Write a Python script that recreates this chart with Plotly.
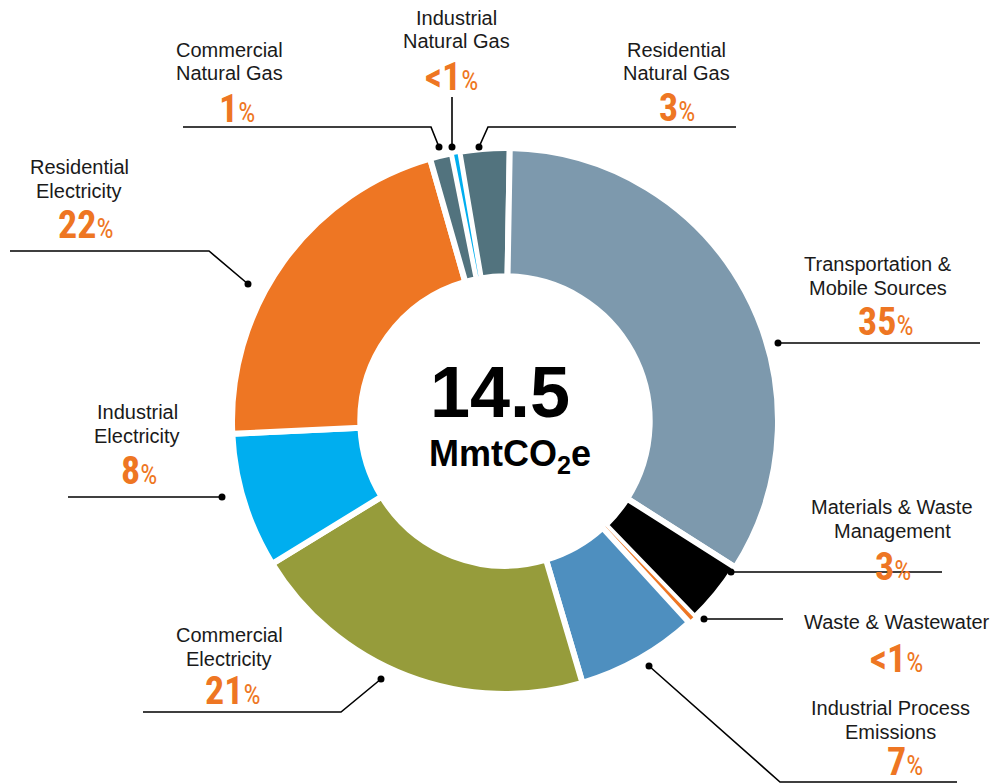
import plotly.graph_objects as go

W, H = 999, 783
OFF = 8  # the page body has an 8px margin, so pixel targets are shifted back by it

# slice data (percent of 14.5 MmtCO2e), clockwise, starting with Residential Natural Gas
# (Industrial Natural Gas last so the thin sliver is drawn on top)
categories = ['Residential Natural Gas', 'Transportation & Mobile Sources', 'Materials & Waste Management',
              'Waste & Wastewater', 'Industrial Process Emissions', 'Commercial Electricity',
              'Industrial Electricity', 'Residential Electricity', 'Commercial Natural Gas',
              'Industrial Natural Gas']
values = [2.95, 33.7, 3.75, 0.45, 7.2, 20.8, 8.0, 21.3, 1.3, 0.45]
colors = ['#52737e', '#7d99ad', '#000000', '#ee7623', '#4e8fbf', '#969c3b',
          '#00aeef', '#ee7623', '#52737e', '#00aeef']
gap_widths = [6, 6, 6, 2, 6, 6, 6, 6, 6, 4]

# callout text
label_lines = [['Residential', 'Natural Gas'], ['Transportation &', 'Mobile Sources'],
               ['Materials & Waste', 'Management'], ['Waste & Wastewater'],
               ['Industrial Process', 'Emissions'], ['Commercial', 'Electricity'],
               ['Industrial', 'Electricity'], ['Residential', 'Electricity'],
               ['Commercial', 'Natural Gas'], ['Industrial', 'Natural Gas']]
pct_labels = ['3', '35', '3', '&lt;1', '7', '21', '8', '22', '1', '&lt;1']
total_label = '14.5'
unit_label = 'MmtCO<sub>2</sub>e'

# callout placement in pixels: (text x, first line y), (pct x, pct y), leader polyline ending at the dot
label_pos = [(676, 50), (878, 264), (892, 507), (897, 622), (890, 708),
             (229, 635), (137, 412), (79, 167), (229, 50), (456, 18)]
pct_pos = [(677, 108), (886, 322), (893, 567), (896, 659), (905, 762),
           (233, 691), (139, 471), (86, 225), (237, 109), (451, 77)]
leaders = [[(736, 127), (488, 127), (479, 147)],
           [(980, 343), (778, 343)],
           [(942, 572), (731, 572)],
           [(783, 619), (704, 619)],
           [(957, 782), (780, 782), (649, 666)],
           [(143, 712), (341, 712), (381, 679)],
           [(68, 497), (222, 497)],
           [(10, 251), (209, 251), (248, 284)],
           [(183, 127), (431, 127), (439, 147)],
           [(452, 97), (452, 147)]]

cx, cy, R = 505, 421, 273


def px(x):
    return (x - OFF) / W


def py(y):
    return 1 - (y - OFF) / H


rotation = 1 - 360 * values[0] / sum(values)

fig = go.Figure(go.Pie(
    labels=categories,
    values=values,
    sort=False,
    direction='clockwise',
    rotation=rotation,
    hole=0.53,
    marker=dict(colors=colors, line=dict(color='white', width=gap_widths)),
    textinfo='none',
    hoverinfo='label+percent',
    showlegend=False,
    domain=dict(x=[px(cx - R), px(cx + R)], y=[py(cy + R), py(cy - R)]),
))

annotations = []
shapes = []
orange = '#ee7623'
for lines, (lx, ly), pct, (qx, qy), pts in zip(label_lines, label_pos, pct_labels, pct_pos, leaders):
    for i, t in enumerate(lines):
        annotations.append(dict(x=px(lx), y=py(ly + i * 23.5), xref='paper', yref='paper',
                                text=t, showarrow=False, xanchor='center', yanchor='middle',
                                font=dict(family='Liberation Sans, Arial', size=20, color='#1a1a1a')))
    annotations.append(dict(x=px(qx), y=py(qy), xref='paper', yref='paper',
                            text=pct + "<span style='font-size:27px;font-weight:normal'>%</span>",
                            showarrow=False, xanchor='center', yanchor='middle',
                            font=dict(family='Roboto Condensed, Roboto', size=38,
                                      color=orange, weight='bold')))
    path = 'M ' + ' L '.join(f'{px(x)},{py(y)}' for x, y in pts)
    shapes.append(dict(type='path', path=path, xref='paper', yref='paper',
                       line=dict(color='black', width=1.6)))
    dx, dy = pts[-1]
    shapes.append(dict(type='circle', xref='paper', yref='paper',
                       x0=px(dx - 3.5), x1=px(dx + 3.5), y0=py(dy + 3.5), y1=py(dy - 3.5),
                       fillcolor='black', line=dict(color='black', width=0)))

annotations.append(dict(x=px(500), y=py(392), xref='paper', yref='paper', text='<b>' + total_label + '</b>',
                        showarrow=False, xanchor='center', yanchor='middle',
                        font=dict(family='Liberation Sans, Arial', size=72, color='black')))
annotations.append(dict(x=px(510), y=py(456), xref='paper', yref='paper', text='<b>' + unit_label + '</b>',
                        showarrow=False, xanchor='center', yanchor='middle',
                        font=dict(family='Liberation Sans, Arial', size=36, color='black')))

fig.update_layout(
    width=W, height=H,
    margin=dict(l=0, r=0, t=0, b=0),
    paper_bgcolor='white',
    plot_bgcolor='white',
    annotations=annotations,
    shapes=shapes,
)

fig.write_html('out.html')
